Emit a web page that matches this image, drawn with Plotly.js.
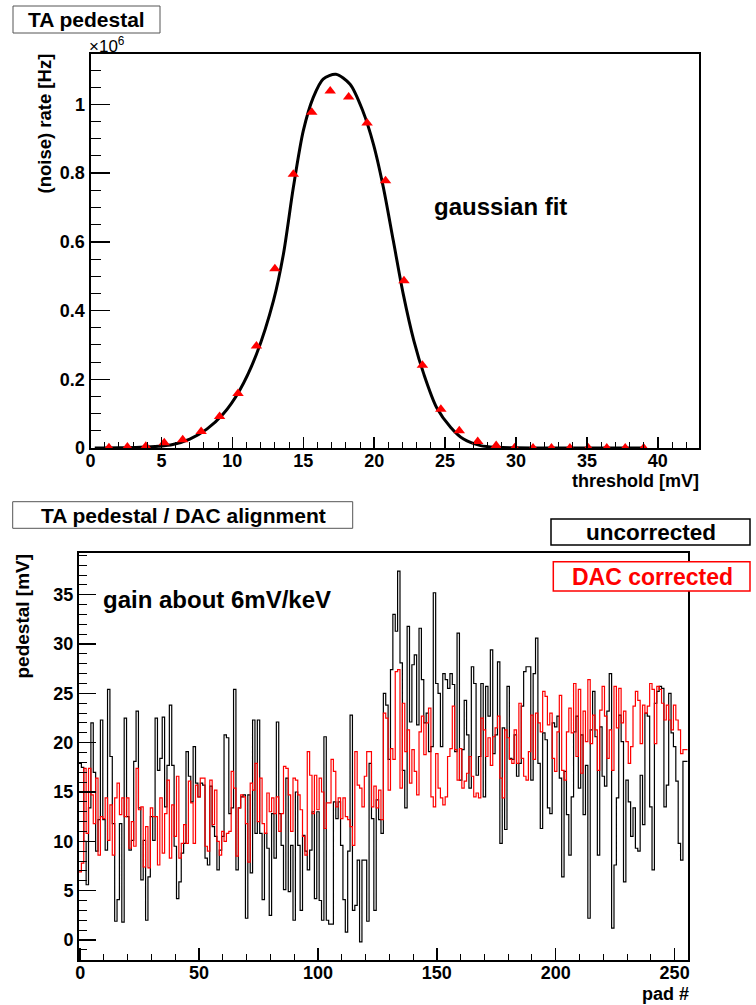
<!DOCTYPE html>
<html>
<head>
<meta charset="utf-8">
<script src="https://cdn.plot.ly/plotly-3.0.1.min.js"></script>
<style>
html,body{margin:0;padding:0;background:#fff;}
#chart{width:756px;height:1005px;}
</style>
</head>
<body>
<div id="chart"></div>
<script>
// ---------- top panel data ----------
const thresholdMV = [1.3,2.6,3.9,5.2,6.5,7.8,9.1,10.4,11.7,13.0,14.3,15.6,16.9,18.2,19.5,20.8,22.1,23.4,24.7,26.0,27.3,28.6,29.9,31.2,32.5,33.8,35.1,36.4,37.7,39.0];
const noiseRate = [0.001,0.003,0.005,0.015,0.024,0.048,0.092,0.159,0.297,0.522,0.797,0.977,1.039,1.022,0.946,0.778,0.487,0.241,0.113,0.050,0.019,0.007,0.001,0,0,0,0,0,0,0];
const fitX = [0.3,2,3.5,4.8,5.8,7.0,8.2,9.35,10.5,11.7,12.9,13.6,14.3,15.0,15.7,16.4,17.3,18.3,19.2,19.95,20.65,21.35,22.05,22.8,23.5,24.4,25.4,26.3,27.5,28.7,30,32,35,39];
const fitY = [0,0.0005,0.002,0.005,0.010,0.026,0.055,0.099,0.167,0.273,0.429,0.564,0.758,0.923,1.020,1.074,1.088,1.059,0.981,0.884,0.758,0.603,0.448,0.312,0.215,0.118,0.060,0.026,0.007,0.002,0.0005,0,0,0];

// ---------- bottom panel data (pad 0..255) ----------
const uncorrected = [
17.9,17.5,10.0,5.6,13.4,22.0,17.0,9.0,12.2,22.3,
12.2,9.1,25.4,18.6,11.8,1.9,4.1,11.8,1.8,22.5,
12.5,9.1,10.1,18.1,23.2,13.4,6.1,10.1,2.0,6.4,
12.5,10.1,22.5,17.2,18.4,22.6,13.5,17.7,23.8,17.7,
9.5,4.2,5.9,8.8,9.8,19.1,16.6,14.0,19.6,15.9,
14.5,15.9,15.7,8.3,7.6,15.6,11.5,10.5,7.1,9.1,
10.5,20.8,20.5,12.8,13.4,25.4,7.1,13.4,14.5,14.7,
2.2,14.7,6.8,22.3,10.8,22.3,10.8,4.1,10.8,9.3,
2.5,12.8,8.3,22.1,12.8,9.6,5.1,16.4,4.9,9.6,
2.0,15.0,9.6,3.0,10.6,9.0,7.1,9.1,13.0,4.2,
13.0,4.0,2.0,20.6,2.0,1.6,1.6,14.0,12.3,14.0,
9.6,4.1,0.8,9.0,22.8,3.0,3.5,8.1,-0.2,8.1,
8.1,1.9,17.9,12.3,3.0,14.2,12.2,10.8,25.0,23.8,
18.3,27.4,33.0,31.3,37.4,28.1,17.2,13.4,31.8,22.1,
27.9,28.9,21.8,31.6,26.4,22.0,23.0,19.1,19.6,35.2,
26.0,25.0,19.6,27.0,26.4,25.5,27.0,25.9,19.1,31.1,
16.2,19.3,24.3,20.8,15.4,27.7,26.0,16.7,18.6,26.0,
14.5,25.7,22.7,29.4,18.9,20.8,28.2,9.8,21.5,11.2,
25.7,18.4,18.3,20.8,16.6,17.9,23.7,27.2,27.7,27.7,
16.2,27.0,30.6,17.9,11.3,21.0,20.3,13.4,12.8,22.0,
21.6,22.7,16.4,6.4,17.1,12.7,8.6,14.5,21.1,22.7,
15.4,20.8,12.7,17.7,2.2,21.3,25.2,20.6,8.6,21.6,
16.6,15.6,23.2,27.0,1.2,7.6,14.4,22.8,20.1,5.9,
16.2,14.0,10.5,13.4,9.3,9.0,16.7,11.7,23.0,22.7,
13.5,7.1,24.0,25.2,25.7,25.5,13.5,15.7,25.0,21.0,
19.6,16.1,9.8,8.1,18.1,18.1];
const dacCorrected = [
6.9,7.8,17.4,10.8,17.4,14.7,11.8,16.4,8.6,12.5,
12.3,14.4,10.1,13.7,8.6,14.4,15.9,12.7,14.4,12.5,
14.4,9.3,12.0,9.5,17.4,13.2,13.5,7.4,11.5,7.3,
13.4,12.5,12.5,7.6,14.4,8.8,12.8,16.2,8.3,13.7,
10.5,16.6,8.3,9.8,11.7,9.8,16.1,13.9,9.8,15.7,
14.5,16.4,16.4,9.5,9.0,16.2,11.7,15.2,10.0,8.6,
11.0,10.0,10.8,11.0,17.1,15.4,8.5,13.4,14.7,14.5,
11.8,7.9,15.9,15.2,17.9,12.0,16.4,11.8,10.8,14.9,
13.0,14.4,12.8,14.5,11.0,12.8,17.6,17.4,14.7,11.0,
16.4,16.2,14.7,13.2,10.5,8.6,19.1,16.7,12.8,16.7,
13.2,16.4,15.0,11.3,13.9,13.9,18.3,17.1,13.5,14.4,
12.3,14.4,12.5,12.2,11.5,9.6,19.1,15.7,15.4,13.5,
16.6,19.1,19.1,13.5,15.6,13.4,15.2,12.2,23.0,22.5,
15.2,19.4,18.3,27.2,27.4,15.4,24.0,19.1,21.3,15.9,
19.3,17.1,14.7,21.1,22.7,18.8,22.0,23.5,14.5,13.5,
18.9,15.4,14.4,13.7,14.5,18.6,19.4,23.7,19.3,16.2,
19.4,15.4,16.1,16.9,18.6,16.6,14.5,14.9,14.4,22.5,
21.3,18.6,20.5,17.7,20.6,21.5,22.7,16.4,14.4,21.3,
20.5,18.3,17.9,21.3,17.9,24.0,18.4,16.6,16.2,19.1,
22.8,18.3,23.0,22.0,21.1,25.2,24.7,21.8,23.0,18.4,
17.1,21.1,24.8,17.2,16.2,21.1,23.5,21.0,26.0,18.6,
25.4,16.9,23.2,20.1,26.4,19.9,22.8,21.3,17.2,23.3,
25.7,22.7,18.4,21.3,17.2,25.7,21.5,25.5,22.0,23.2,
20.1,17.9,19.6,23.7,25.2,24.3,19.9,23.8,23.0,23.7,
26.0,25.4,19.9,25.7,25.4,24.0,22.3,23.8,22.3,21.3,
23.8,22.3,21.3,18.9,19.3,19.3];

// ---------- helpers ----------
const W = 756, H = 1005;
const px = x => x / W;
const py = y => 1 - y / H;
const FONT = 'Liberation Sans, Arial, Helvetica, sans-serif';

// step-histogram edges: bin i spans [i-0.5, i+0.5]
function stepTrace(vals, color) {
  const xs = vals.map((v, i) => i - 0.5);
  xs.push(vals.length - 0.5);
  const ys = vals.slice();
  ys.push(vals[vals.length - 1]);
  return {x: xs, y: ys, xaxis: 'x2', yaxis: 'y2', type: 'scatter', mode: 'lines',
          line: {color: color, width: 1.2, shape: 'hv'}, hoverinfo: 'skip'};
}

const traces = [
  {x: fitX, y: fitY, xaxis: 'x', yaxis: 'y', type: 'scatter', mode: 'lines',
   line: {color: 'black', width: 3, shape: 'spline', smoothing: 0.8}},
  {x: thresholdMV, y: noiseRate, xaxis: 'x', yaxis: 'y', type: 'scatter', mode: 'markers',
   marker: {symbol: 'triangle-up', color: 'red', size: 10}},
  stepTrace(uncorrected, 'black'),
  stepTrace(dacCorrected, 'red')
];

function ax(extra) {
  return Object.assign({
    showline: true, linewidth: 2, linecolor: 'black', mirror: true,
    ticks: 'inside', tickwidth: 1.5, tickcolor: 'black',
    showgrid: false, zeroline: false,
    tickfont: {family: FONT, size: 18, weight: 'bold', color: 'black'},
    fixedrange: true
  }, extra);
}

const tf = (size, color) => ({family: FONT, size: size, weight: 'bold', color: color || 'black'});

const annotations = [
  {x: px(86.5), y: py(19.5), text: 'TA pedestal', font: tf(21)},
  {x: px(183), y: py(515.5), text: 'TA pedestal / DAC alignment', font: tf(21)},
  {x: px(650.5), y: py(532), text: 'uncorrected', font: tf(22.5)},
  {x: px(652), y: py(576.5), text: 'DAC corrected', font: tf(23, 'red')},
  {x: px(432), y: py(206), xanchor: 'left', text: 'gaussian fit', font: tf(24)},
  {x: px(101), y: py(599), xanchor: 'left', text: 'gain about 6mV/keV', font: tf(24)},
  {x: px(44.5), y: py(52), textangle: -90, yanchor: 'top', text: '(noise) rate [Hz]', font: tf(18.5)},
  {x: px(22), y: py(552), textangle: -90, yanchor: 'top', text: 'pedestal [mV]', font: tf(19)},
  {x: px(701), y: py(481), xanchor: 'right', text: 'threshold [mV]', font: tf(18)},
  {x: px(690), y: py(1005), xanchor: 'right', yanchor: 'bottom', borderpad: 0, text: 'pad #', font: tf(18)},
  {x: px(87), y: py(45), xanchor: 'left', text: '\u00d710<sup>6</sup>', font: {family: FONT, size: 17, color: 'black'}}
].map(a => Object.assign({xref: 'paper', yref: 'paper', showarrow: false, xanchor: 'center', yanchor: 'middle'}, a));

const rect = (x0, y0, x1, y1, color, w) => ({type: 'rect', xref: 'paper', yref: 'paper',
  x0: px(x0), x1: px(x1), y0: py(y1), y1: py(y0), line: {color: color, width: w}, fillcolor: 'white', layer: 'above'});

const shapes = [
  rect(13, 6, 160, 33, '#555', 1),
  rect(12.7, 501.7, 352.7, 528.3, '#555', 1),
  rect(551, 519, 750, 545, 'black', 1.5),
  rect(553.3, 561.7, 750, 591, 'red', 1.5)
];

const layout = {
  width: W, height: H,
  margin: {l: 0, r: 0, t: 0, b: 0},
  paper_bgcolor: 'white', plot_bgcolor: 'rgba(0,0,0,0)',
  showlegend: false,
  font: {family: FONT, color: 'black'},
  xaxis: ax({domain: [px(90.5), px(699)], range: [0, 42.9], anchor: 'y',
             tick0: 0, dtick: 5, ticklen: 11, ticklabelstandoff: -5,
             minor: {ticks: 'inside', dtick: 1, ticklen: 6, tickcolor: 'black', tickwidth: 1}}),
  yaxis: ax({domain: [py(448), py(54.3)], range: [0, 1.146], anchor: 'x',
             tick0: 0, dtick: 0.2, ticklen: 19,
             minor: {ticks: 'inside', dtick: 0.05, ticklen: 10, tickcolor: 'black', tickwidth: 1}}),
  xaxis2: ax({domain: [px(79), px(687.7)], range: [-0.5, 255.5], anchor: 'y2',
              tick0: 0, dtick: 50, ticklen: 12, ticklabelstandoff: -5,
              minor: {ticks: 'inside', dtick: 10, ticklen: 6, tickcolor: 'black', tickwidth: 1}}),
  yaxis2: ax({domain: [py(960), py(553.3)], range: [-2.03, 39.2], anchor: 'x2',
              tick0: 0, dtick: 5, ticklen: 16.7,
              minor: {ticks: 'inside', dtick: 1, ticklen: 7.7, tickcolor: 'black', tickwidth: 1}}),
  annotations: annotations,
  shapes: shapes
};

Plotly.newPlot('chart', traces, layout, {displayModeBar: false, staticPlot: true});
</script>
</body>
</html>
